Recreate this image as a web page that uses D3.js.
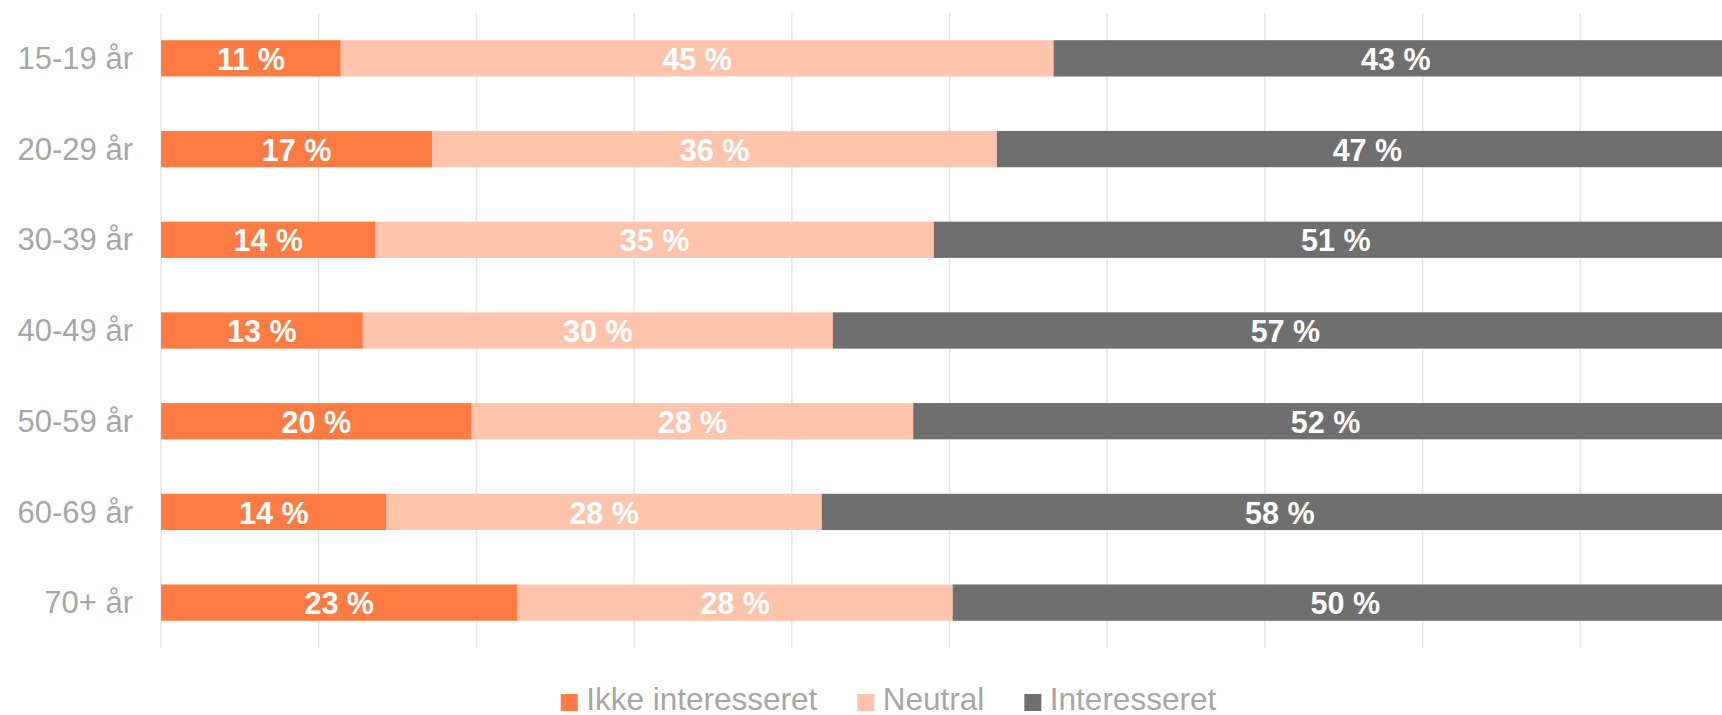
<!DOCTYPE html>
<html>
<head>
<meta charset="utf-8">
<script src="https://cdn.jsdelivr.net/npm/d3@7"></script>
<style>
  body { margin: 0; background: #fff; }
  svg { display: block; font-family: "Liberation Sans", Arial, sans-serif; }
</style>
</head>
<body>
<svg></svg>
<script>
// age groups, top to bottom
var groups = ["15-19 år", "20-29 år", "30-39 år", "40-49 år", "50-59 år", "60-69 år", "70+ år"];
var seriesNames = ["Ikke interesseret", "Neutral", "Interesseret"];
var seriesColors = ["#ff7b44", "#ffc4ab", "#6f6f6f"];

// shares in %
var notInterested = [11.4, 17.2, 13.6, 12.8, 19.7, 14.3, 22.6];
var neutral       = [45.2, 35.8, 35.4, 29.8, 28.0, 27.6, 27.6];
var interested    = [43.4, 47.0, 51.0, 57.4, 52.3, 58.1, 49.8];
var xTicks = [0, 10, 20, 30, 40, 50, 60, 70, 80, 90, 100];

var width = 1722, height = 715;
var svg = d3.select("svg").attr("width", width).attr("height", height);

var rows = groups.map(function(g, i) {
  return { group: g, "Ikke interesseret": notInterested[i], "Neutral": neutral[i], "Interesseret": interested[i] };
});
var stacked = d3.stack().keys(seriesNames)(rows);

// plot runs past the right edge (clipped like the original)
var x = d3.scaleLinear().domain([0, 100]).range([161, 1738]);
var y = d3.scaleBand().domain(groups).range([13, 648]).paddingInner(0.6).paddingOuter(0.3);

// vertical gridlines
svg.append("g")
  .selectAll("line")
  .data(xTicks)
  .enter().append("line")
    .attr("x1", d => x(d)).attr("x2", d => x(d))
    .attr("y1", 13).attr("y2", 648)
    .attr("stroke", "#e6e6e6")
    .attr("stroke-width", 1.5);

// category labels
svg.append("g")
  .selectAll("text")
  .data(groups)
  .enter().append("text")
    .attr("x", 133)
    .attr("y", d => y(d) + y.bandwidth() / 2)
    .attr("dy", "0.345em")
    .attr("text-anchor", "end")
    .attr("fill", "#a6a6a6")
    .style("font-size", "31px")
    .text(d => d);

// bars
var layer = svg.append("g")
  .selectAll("g")
  .data(stacked)
  .enter().append("g")
    .attr("fill", (d, i) => seriesColors[i]);

layer.selectAll("rect")
  .data(d => d)
  .enter().append("rect")
    .attr("x", d => x(d[0]))
    .attr("y", d => y(d.data.group))
    .attr("width", d => x(d[1]) - x(d[0]))
    .attr("height", y.bandwidth());

// value labels
layer.selectAll("text")
  .data(d => d)
  .enter().append("text")
    .attr("x", d => (x(d[0]) + x(d[1])) / 2)
    .attr("y", d => y(d.data.group) + y.bandwidth() / 2)
    .attr("dy", "0.38em")
    .attr("text-anchor", "middle")
    .attr("fill", "#fff")
    .style("font-size", "30.5px")
    .style("font-weight", "bold")
    .text(d => Math.round(d[1] - d[0]) + " %");

// legend
var legend = svg.append("g");
var lx = 560.7;
seriesNames.forEach(function(name, i) {
  legend.append("rect")
    .attr("x", lx).attr("y", 694)
    .attr("width", 17).attr("height", 17)
    .attr("fill", seriesColors[i]);
  var t = legend.append("text")
    .attr("x", lx + 25.5)
    .attr("y", 710)
    .attr("fill", "#a6a6a6")
    .style("font-size", "31.5px")
    .text(name);
  lx += 25.5 + t.node().getComputedTextLength() + 40;
});
</script>
</body>
</html>
